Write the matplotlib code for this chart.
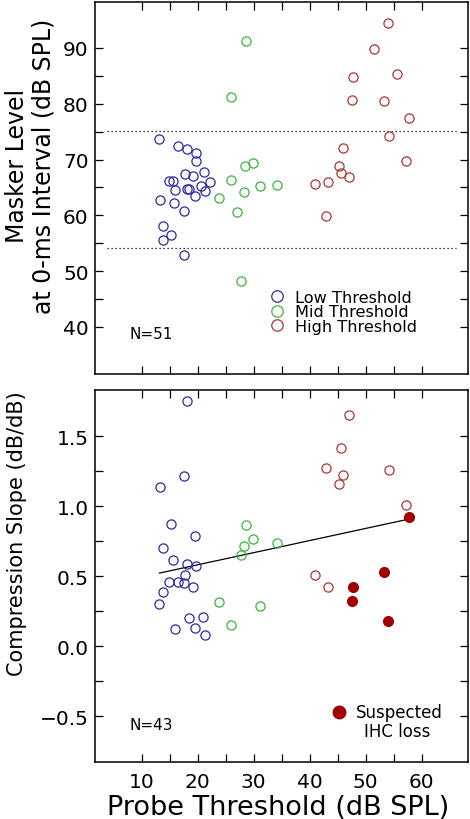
import numpy as np
import matplotlib
matplotlib.use('Agg')
from matplotlib import pyplot as plt
from matplotlib.ticker import MultipleLocator, FixedLocator, FuncFormatter

# ---- top panel: masker level at 0-ms interval ----
lowX = [13.2, 16.5, 18.2, 19.7, 19.7, 17.7, 19.2, 21.2, 14.9, 15.6, 22.2, 20.7,
        16.0, 18.2, 18.5, 21.4, 19.5, 13.3, 15.8, 17.5, 13.8, 15.2, 13.9, 17.6]
lowY = [73.6, 72.4, 71.9, 71.2, 69.7, 67.4, 67.1, 67.8, 66.1, 66.1, 66.0, 65.3,
        64.6, 64.8, 64.7, 64.4, 63.4, 62.7, 62.2, 60.7, 58.1, 56.5, 55.5, 52.8]
midX = [28.6, 26.0, 28.5, 29.8, 26.0, 23.9, 28.3, 31.2, 34.2, 27.1, 27.8]
midY = [91.2, 81.3, 68.8, 69.3, 66.3, 63.1, 64.2, 65.3, 65.4, 60.6, 48.3]
highX = [53.9, 51.4, 47.7, 55.6, 47.5, 53.3, 57.7, 54.1, 46.0, 45.2, 45.5, 47.0,
         41.0, 43.2, 43.0, 57.2]
highY = [94.4, 89.8, 84.8, 85.3, 80.7, 80.5, 77.5, 74.3, 72.1, 68.9, 67.6, 66.8,
         65.6, 66.0, 59.8, 69.8]
dottedLevels = [75.2, 54.1]

# ---- bottom panel: compression slope ----
lowSX = [18.15, 17.5, 13.3, 15.2, 19.6, 13.75, 15.65, 18.15, 19.7, 17.8, 14.9,
         16.5, 17.5, 19.2, 13.9, 13.15, 18.4, 20.9, 15.9, 19.5, 21.4]
lowSY = [1.75, 1.214, 1.136, 0.871, 0.790, 0.700, 0.614, 0.590, 0.574, 0.510, 0.460,
         0.455, 0.448, 0.426, 0.388, 0.302, 0.198, 0.207, 0.124, 0.126, 0.083]
midSX = [28.6, 29.8, 28.3, 34.2, 27.8, 23.9, 31.2, 26.0]
midSY = [0.864, 0.767, 0.714, 0.740, 0.648, 0.317, 0.286, 0.150]
highSX = [47.0, 45.5, 43.0, 46.0, 45.2, 54.1, 57.2, 41.0, 43.2]
highSY = [1.65, 1.417, 1.276, 1.221, 1.155, 1.255, 1.005, 0.505, 0.421]
ihcX = [57.7, 53.3, 47.7, 47.5, 53.9]
ihcY = [0.924, 0.533, 0.424, 0.324, 0.176]
fitX = [13.2, 57.5]
fitY = [0.522, 0.906]

blue = '#2c2ca0'
green = '#3db43d'
red = '#ad3434'
darkred = '#a00000'

plt.rcParams['font.family'] = ['DejaVu Sans']

fig = plt.figure(figsize=(4.7, 8.2), dpi=100)
ax1 = fig.add_axes([95/470, 1-375.3/820, 373.3/470, 372.6/820])
ax2 = fig.add_axes([95/470, 1-763.3/820, 373.3/470, 372.3/820])

def styleAxis(ax):
    for s in ax.spines.values():
        s.set_linewidth(1.1)
    ax.set_xlim(1.7, 68.3)
    ax.xaxis.set_major_locator(FixedLocator([10, 20, 30, 40, 50, 60]))
    ax.xaxis.set_minor_locator(FixedLocator([15, 25, 35, 45, 55]))
    ax.tick_params(which='both', direction='in', top=True, right=True,
                   length=5.5, width=0.9, labelsize=14.5)
    ax.tick_params(axis='y', pad=4.5)
    ax.tick_params(axis='x', pad=7)

openKw = dict(ls='none', marker='o', ms=6.6, mfc='none', mew=0.9)

# top
styleAxis(ax1)
ax1.set_ylim(31.5, 98.3)
ax1.yaxis.set_major_locator(FixedLocator([40, 50, 60, 70, 80, 90]))
ax1.yaxis.set_minor_locator(FixedLocator([45, 55, 65, 75, 85]))
ax1.tick_params(axis='x', labelbottom=False)
ax1.hlines(dottedLevels, 3.8, 66.1, colors='black', linestyles=(0, (1, 2.2)), lw=0.9)
ax1.plot(lowX, lowY, color=blue, label='Low Threshold', **openKw)
ax1.plot(midX, midY, color=green, label='Mid Threshold', **openKw)
ax1.plot(highX, highY, color=red, label='High Threshold', **openKw)
leg = ax1.legend(loc='upper left', bbox_to_anchor=(0.466, 0.226), frameon=False,
                 fontsize=11.6, handlelength=1.0, handletextpad=0.6,
                 labelspacing=-0.04, borderpad=0, borderaxespad=0, markerscale=1.25)
ax1.text(7.8, 38.8, 'N=51', fontsize=11, va='center', ha='left')

# bottom
styleAxis(ax2)
ax2.set_ylim(-0.83, 1.83)
ax2.yaxis.set_major_locator(MultipleLocator(0.5))
ax2.yaxis.set_minor_locator(FixedLocator([-0.25, 0.25, 0.75, 1.25]))
ax2.yaxis.set_major_formatter(FuncFormatter(lambda v, p: ('%.1f' % v).replace('-', '\u2212')))
ax2.plot(fitX, fitY, color='black', lw=0.9)
ax2.plot(lowSX, lowSY, color=blue, **openKw)
ax2.plot(midSX, midSY, color=green, **openKw)
ax2.plot(highSX, highSY, color=red, **openKw)
ax2.plot(ihcX, ihcY, ls='none', marker='o', ms=8, color=darkred, mew=0)
leg2 = ax2.legend([ax2.lines[-1]], ['Suspected'], loc='upper left',
                  bbox_to_anchor=(0.632, 0.158), frameon=False, fontsize=12,
                  handlelength=1.0, handletextpad=0.5, borderpad=0,
                  borderaxespad=0, markerscale=1.25)
ax2.text(55.7, -0.605, 'IHC loss', fontsize=12, ha='center', va='center')
ax2.text(7.8, -0.56, 'N=43', fontsize=11, va='center', ha='left')

fig.text(278/470, 1-808.5/820, 'Probe Threshold (dB SPL)', fontsize=19.5,
         ha='center', va='center')
fig.text(30/470, 1-166/820, 'Masker Level\nat 0-ms Interval (dB SPL)', rotation=90,
         ha='center', va='center', multialignment='center', fontsize=17,
         linespacing=1.15)
fig.text(17/470, 1-534/820, 'Compression Slope (dB/dB)', rotation=90,
         ha='center', va='center', fontsize=15)

fig.savefig('out.png', dpi=100)
